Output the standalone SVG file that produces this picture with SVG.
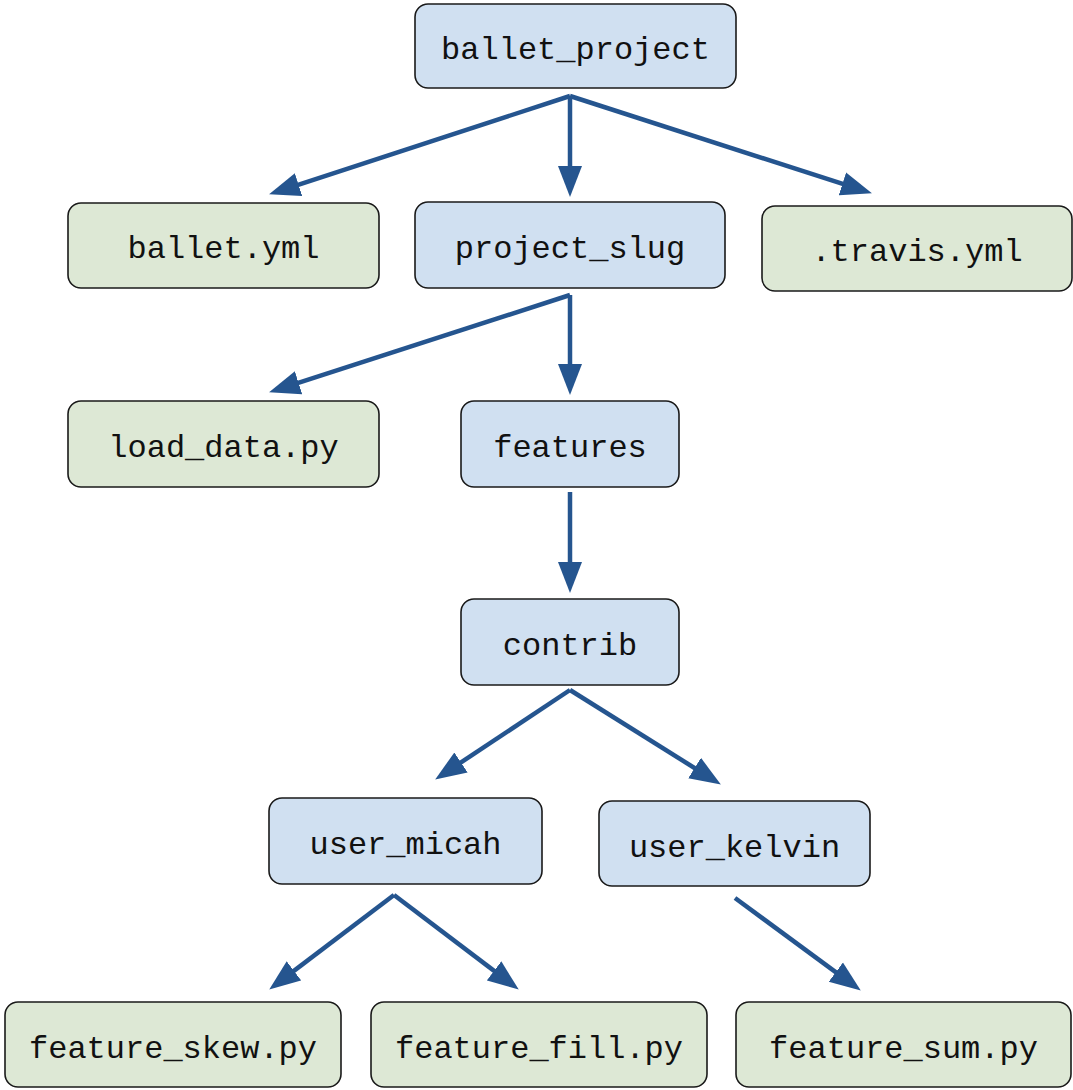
<svg xmlns="http://www.w3.org/2000/svg" width="1073" height="1090" viewBox="0 0 1073 1090">
<style>
.dir rect{fill:#d0e0f1;stroke:#1a1a1a;stroke-width:1.6}
.file rect{fill:#dde8d5;stroke:#1a1a1a;stroke-width:1.6}
text{font-family:"Liberation Mono","DejaVu Sans Mono",monospace;font-size:32px;fill:#111;text-anchor:middle}
.edges line{stroke:#25558f;stroke-width:4.5;fill:none;marker-end:url(#ah)}
</style>
<defs>
<marker id="ah" markerUnits="userSpaceOnUse" markerWidth="32" markerHeight="26" viewBox="0 0 32 26" refX="15" refY="13" orient="auto">
<path d="M0,1 L31,13 L0,25 Z" fill="#25558f"/>
</marker>
</defs>
<rect width="1073" height="1090" fill="#fff"/>
<g class="edges">
<line x1="570" y1="96" x2="284.3" y2="189.3"/>
<line x1="570" y1="96" x2="570" y2="181"/>
<line x1="570" y1="96" x2="856.7" y2="188.4"/>
<line x1="570" y1="295" x2="284.3" y2="387.4"/>
<line x1="570" y1="295" x2="570" y2="379"/>
<line x1="570" y1="492" x2="570" y2="577"/>
<line x1="570" y1="690" x2="448.5" y2="770.7"/>
<line x1="570" y1="690" x2="707.3" y2="776"/>
<line x1="394" y1="895" x2="282" y2="979.9"/>
<line x1="394" y1="895" x2="506" y2="979.9"/>
<line x1="735" y1="898" x2="847.9" y2="981.1"/>
</g>
<g id="ballet_project" class="dir"><rect x="415" y="4" width="321" height="84" rx="13"/><text x="575.5" y="59">ballet_project</text></g>
<g id="ballet_yml" class="file"><rect x="68" y="203" width="311" height="85" rx="13"/><text x="223.5" y="258">ballet.yml</text></g>
<g id="project_slug" class="dir"><rect x="415" y="202" width="310" height="86" rx="13"/><text x="570" y="258">project_slug</text></g>
<g id="travis_yml" class="file"><rect x="762" y="206" width="310" height="85" rx="13"/><text x="917" y="261">.travis.yml</text></g>
<g id="load_data" class="file"><rect x="68" y="401" width="311" height="86" rx="13"/><text x="223.5" y="457">load_data.py</text></g>
<g id="features" class="dir"><rect x="461" y="401" width="218" height="86" rx="13"/><text x="570" y="457">features</text></g>
<g id="contrib" class="dir"><rect x="461" y="599" width="218" height="86" rx="13"/><text x="570" y="655">contrib</text></g>
<g id="user_micah" class="dir"><rect x="269" y="798" width="273" height="86" rx="13"/><text x="405.5" y="854">user_micah</text></g>
<g id="user_kelvin" class="dir"><rect x="599" y="801" width="271" height="85" rx="13"/><text x="734.5" y="857">user_kelvin</text></g>
<g id="feature_skew" class="file"><rect x="5" y="1002" width="336" height="85" rx="13"/><text x="173" y="1058">feature_skew.py</text></g>
<g id="feature_fill" class="file"><rect x="371" y="1002" width="336" height="85" rx="13"/><text x="539" y="1058">feature_fill.py</text></g>
<g id="feature_sum" class="file"><rect x="736" y="1002" width="335" height="85" rx="13"/><text x="903.5" y="1058">feature_sum.py</text></g>
</svg>
